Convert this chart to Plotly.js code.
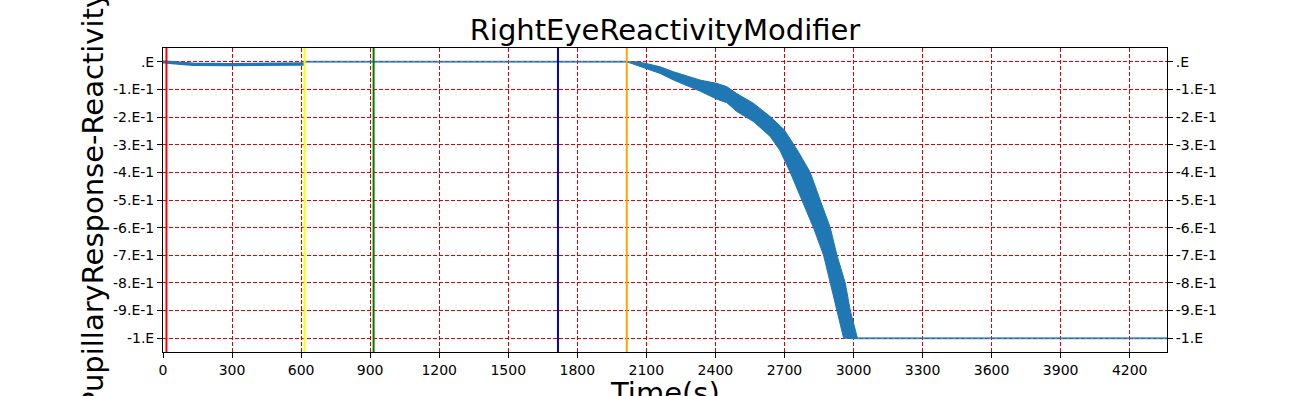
<!DOCTYPE html>
<html>
<head>
<meta charset="utf-8">
<script src="https://cdn.plot.ly/plotly-3.0.1.min.js"></script>
<style>
  html, body { margin: 0; padding: 0; background: #ffffff; }
  #chart { width: 1296px; height: 396px; }
</style>
</head>
<body>
<div id="chart"></div>
<script>
// ---- data ----
const chartTitle = "RightEyeReactivityModifier";
const xTitle = "Time(s)";
const yTitle = "PupillaryResponse-Reactivity";

// early segment (before the yellow event)
const earlyT = [0, 60, 130, 300, 450, 600, 615];
const earlyY = [0, -0.004, -0.009, -0.010, -0.010, -0.008, -0.008];

// flat segment at zero
const flatT = [615, 2015];
const flatY = [0, 0];

// oscillating decline: upper and lower envelope of the band
const upperT = [2015, 2058, 2099, 2160, 2218, 2275, 2333, 2406, 2450, 2493, 2565, 2638, 2699, 2755, 2812, 2855, 2899, 2928, 2964, 2986, 3017];
const upperY = [0, 0, -0.006, -0.018, -0.036, -0.050, -0.066, -0.078, -0.090, -0.115, -0.150, -0.198, -0.246, -0.318, -0.400, -0.500, -0.600, -0.700, -0.800, -0.900, -1.0];
const lowerT = [2015, 2058, 2099, 2160, 2218, 2275, 2333, 2406, 2450, 2493, 2565, 2638, 2680, 2725, 2776, 2826, 2870, 2899, 2928, 2957];
const lowerY = [0, -0.012, -0.024, -0.042, -0.066, -0.086, -0.106, -0.135, -0.148, -0.180, -0.216, -0.270, -0.320, -0.400, -0.500, -0.600, -0.700, -0.800, -0.900, -1.0];

// flat tail at the floor
const tailT = [2990, 4362];
const tailY = [-1, -1];

// event markers
const eventTimes = [15, 615, 915, 1716, 2015];
const eventColors = ["#ff0000", "#ffff00", "#007a00", "#0000c8", "#ffa500"];

// axes
const xRange = [0, 4362];
const yRange = [-1.05, 0.05];
const xTickVals = [0, 300, 600, 900, 1200, 1500, 1800, 2100, 2400, 2700, 3000, 3300, 3600, 3900, 4200];
const yTickVals = [0, -0.1, -0.2, -0.3, -0.4, -0.5, -0.6, -0.7, -0.8, -0.9, -1.0];
const yTickText = [".E", "-1.E-1", "-2.E-1", "-3.E-1", "-4.E-1", "-5.E-1", "-6.E-1", "-7.E-1", "-8.E-1", "-9.E-1", "-1.E"];

// ---- build ----
const blue = "#1f77b4";
const font = "DejaVu Sans, Arial, sans-serif";

const bandX = upperT.concat(lowerT.slice().reverse());
const bandY = upperY.concat(lowerY.slice().reverse());

const traces = [
  {x: flatT, y: flatY, mode: "lines", line: {color: "rgba(31,119,180,0.8)", width: 2}, hoverinfo: "skip", showlegend: false},
  {x: tailT, y: tailY, mode: "lines", line: {color: "rgba(31,119,180,0.8)", width: 2}, hoverinfo: "skip", showlegend: false},
  {x: earlyT, y: earlyY, mode: "lines", line: {color: blue, width: 3.4}, hoverinfo: "skip", showlegend: false},
  {x: bandX, y: bandY, mode: "lines", fill: "toself", fillcolor: blue, line: {color: blue, width: 1}, hoverinfo: "skip", showlegend: false},
  {x: [xRange[0]], y: [yRange[0]], yaxis: "y2", mode: "markers", marker: {opacity: 0}, hoverinfo: "skip", showlegend: false}
];

const shapes = eventTimes.map((t, i) => ({
  type: "line", xref: "x", yref: "paper", x0: t, x1: t, y0: 0, y1: 1,
  line: {color: eventColors[i], width: 2}, layer: "above"
}));

const axisCommon = {
  showline: true, linecolor: "#000", linewidth: 1,
  ticks: "outside", ticklen: 5, tickwidth: 1, tickcolor: "#000",
  tickfont: {family: font, size: 14, color: "#000"},
  zeroline: false
};

const layout = {
  width: 1296, height: 396,
  margin: {l: 163, r: 129, t: 48, b: 44, pad: 0},
  paper_bgcolor: "#fff", plot_bgcolor: "#fff",
  title: {text: chartTitle, font: {family: font, size: 29, color: "#000"},
          x: 0.5, xref: "paper", xanchor: "center", y: 0.925, yref: "container", yanchor: "middle"},
  xaxis: Object.assign({}, axisCommon, {
    range: xRange, tickmode: "array", tickvals: xTickVals, mirror: true,
    showgrid: true, gridcolor: "#e00000", gridwidth: 1, griddash: "4px,2px",
    title: {text: ""}
  }),
  yaxis: Object.assign({}, axisCommon, {
    range: yRange, tickmode: "array", tickvals: yTickVals, ticktext: yTickText, mirror: true,
    showgrid: true, gridcolor: "#e00000", gridwidth: 1, griddash: "4px,2px",
    title: {text: yTitle, font: {family: font, size: 29, color: "#000"}, standoff: 0}
  }),
  yaxis2: Object.assign({}, axisCommon, {
    range: yRange, tickmode: "array", tickvals: yTickVals, ticktext: yTickText,
    overlaying: "y", side: "right", showgrid: false, showline: false
  }),
  annotations: [{
    text: xTitle, xref: "paper", yref: "paper", x: 0.5, y: -0.072,
    xanchor: "center", yanchor: "top", showarrow: false,
    font: {family: font, size: 29, color: "#000"}
  }],
  shapes: shapes,
  showlegend: false
};

Plotly.newPlot("chart", traces, layout, {staticPlot: true, displayModeBar: false});
</script>
</body>
</html>
